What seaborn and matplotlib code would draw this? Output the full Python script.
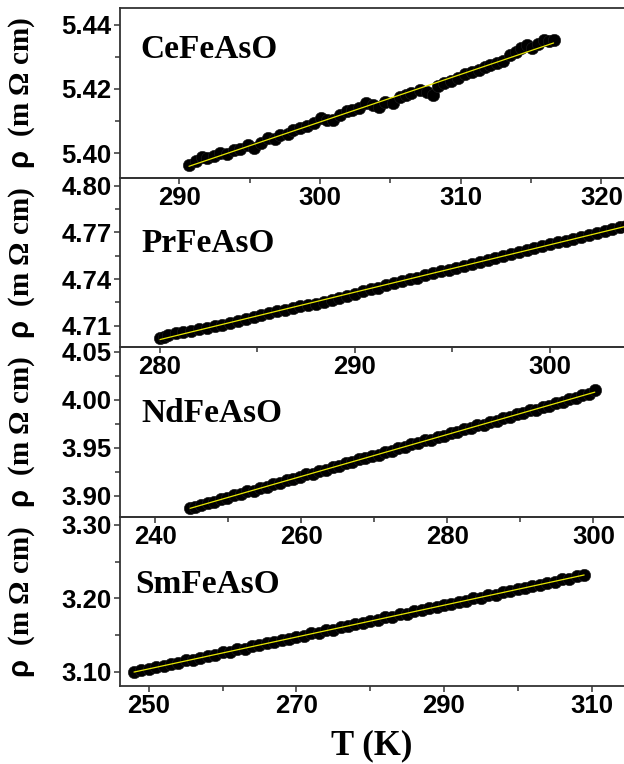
import numpy as np
import pandas as pd
import seaborn as sns
import matplotlib
matplotlib.use("Agg")
import matplotlib.pyplot as plt
from matplotlib.ticker import MultipleLocator, FormatStrFormatter

# ---------------- data ----------------
compounds = ["CeFeAsO", "PrFeAsO", "NdFeAsO", "SmFeAsO"]

T_ce = [290.7, 291.2, 291.6, 292.0, 292.5, 292.9, 293.4, 293.9, 294.3, 294.9,
        295.3, 295.8, 296.3, 296.8, 297.2, 297.7, 298.1, 298.6, 299.1, 299.6,
        300.1, 300.5, 300.9, 301.4, 301.9, 302.3, 302.8, 303.3, 303.8, 304.2,
        304.6, 305.2, 305.7, 306.1, 306.5, 307.1, 307.6, 308.0, 308.4, 308.8,
        309.3, 309.8, 310.3, 310.8, 311.3, 311.7, 312.1, 312.6, 313.0, 313.5,
        313.9, 314.3, 314.7, 315.1, 315.5, 315.9, 316.3, 316.6]
rho_ce = [5.3963, 5.3975, 5.3988, 5.3984, 5.3992, 5.4000, 5.3996, 5.4009, 5.4012, 5.4025,
          5.4016, 5.4030, 5.4047, 5.4044, 5.4056, 5.4060, 5.4072, 5.4078, 5.4084, 5.4095,
          5.4109, 5.4104, 5.4103, 5.4118, 5.4130, 5.4134, 5.4142, 5.4156, 5.4150, 5.4144,
          5.4159, 5.4156, 5.4175, 5.4182, 5.4188, 5.4197, 5.4190, 5.4181, 5.4208, 5.4219,
          5.4225, 5.4234, 5.4246, 5.4252, 5.4259, 5.4268, 5.4275, 5.4281, 5.4288, 5.4305,
          5.4315, 5.4327, 5.4338, 5.4328, 5.4340, 5.4353, 5.4350, 5.4353]

T_pr = [280.0, 280.2, 280.4, 280.8, 281.2, 281.6, 282.0, 282.4, 282.8, 283.2,
        283.6, 284.0, 284.4, 284.8, 285.2, 285.6, 286.0, 286.4, 286.8, 287.2,
        287.6, 288.0, 288.4, 288.8, 289.2, 289.6, 290.0, 290.4, 290.8, 291.2,
        291.6, 292.0, 292.4, 292.8, 293.2, 293.6, 294.0, 294.4, 294.8, 295.2,
        295.6, 296.0, 296.4, 296.8, 297.2, 297.6, 298.0, 298.4, 298.8, 299.2,
        299.6, 300.0, 300.4, 300.8, 301.2, 301.6, 302.0, 302.4, 302.8, 303.2,
        303.6, 303.9]
rho_pr = [4.7019, 4.7030, 4.7040, 4.7051, 4.7060, 4.7068, 4.7081, 4.7088, 4.7100, 4.7106,
          4.7117, 4.7131, 4.7142, 4.7158, 4.7166, 4.7180, 4.7195, 4.7204, 4.7214, 4.7225,
          4.7233, 4.7240, 4.7252, 4.7263, 4.7279, 4.7292, 4.7305, 4.7322, 4.7334, 4.7345,
          4.7360, 4.7372, 4.7386, 4.7398, 4.7409, 4.7424, 4.7437, 4.7450, 4.7461, 4.7474,
          4.7487, 4.7500, 4.7512, 4.7523, 4.7538, 4.7550, 4.7562, 4.7575, 4.7588, 4.7601,
          4.7613, 4.7625, 4.7636, 4.7648, 4.7660, 4.7673, 4.7686, 4.7698, 4.7710, 4.7720,
          4.7733, 4.7742]

T_nd = [244.8, 245.4, 246.3, 247.2, 248.1, 249.0, 249.9, 250.8, 251.7, 252.6,
        253.5, 254.4, 255.3, 256.2, 257.1, 258.0, 258.9, 259.8, 260.7, 261.6,
        262.5, 263.4, 264.3, 265.2, 266.1, 267.0, 267.9, 268.8, 269.7, 270.6,
        271.5, 272.4, 273.3, 274.2, 275.1, 276.0, 276.9, 277.8, 278.7, 279.6,
        280.5, 281.4, 282.3, 283.2, 284.1, 285.0, 285.9, 286.8, 287.7, 288.6,
        289.5, 290.4, 291.3, 292.2, 293.1, 294.0, 294.9, 295.8, 296.7, 297.6,
        298.5, 299.4, 300.2]
rho_nd = [3.8872, 3.8884, 3.8898, 3.8925, 3.8936, 3.8966, 3.8978, 3.9004, 3.9014, 3.9045,
          3.9052, 3.9084, 3.9093, 3.9121, 3.9134, 3.9164, 3.9170, 3.9192, 3.9222, 3.9230,
          3.9262, 3.9270, 3.9300, 3.9306, 3.9340, 3.9348, 3.9378, 3.9388, 3.9418, 3.9425,
          3.9457, 3.9466, 3.9496, 3.9504, 3.9536, 3.9545, 3.9575, 3.9582, 3.9614, 3.9622,
          3.9652, 3.9662, 3.9693, 3.9700, 3.9732, 3.9740, 3.9771, 3.9779, 3.9810, 3.9818,
          3.9850, 3.9858, 3.9889, 3.9897, 3.9928, 3.9936, 3.9968, 3.9975, 4.0006, 4.0015,
          4.0046, 4.0055, 4.0105]

T_sm = [248.0, 249.0, 250.0, 251.0, 252.0, 253.0, 254.0, 255.0, 256.0, 257.0,
        258.0, 259.0, 260.0, 261.0, 262.0, 263.0, 264.0, 265.0, 266.0, 267.0,
        268.0, 269.0, 270.0, 271.0, 272.0, 273.0, 274.0, 275.0, 276.0, 277.0,
        278.0, 279.0, 280.0, 281.0, 282.0, 283.0, 284.0, 285.0, 286.0, 287.0,
        288.0, 289.0, 290.0, 291.0, 292.0, 293.0, 294.0, 295.0, 296.0, 297.0,
        298.0, 299.0, 300.0, 301.0, 302.0, 303.0, 304.0, 305.0, 306.0, 307.0,
        308.0, 309.0]
rho_sm = [3.1000, 3.1020, 3.1032, 3.1064, 3.1076, 3.1108, 3.1120, 3.1154, 3.1163, 3.1186,
          3.1220, 3.1228, 3.1262, 3.1270, 3.1306, 3.1314, 3.1349, 3.1358, 3.1392, 3.1400,
          3.1436, 3.1444, 3.1478, 3.1489, 3.1522, 3.1531, 3.1565, 3.1575, 3.1610, 3.1618,
          3.1652, 3.1661, 3.1695, 3.1704, 3.1740, 3.1748, 3.1782, 3.1792, 3.1826, 3.1835,
          3.1870, 3.1878, 3.1912, 3.1922, 3.1956, 3.1965, 3.2000, 3.2008, 3.2043, 3.2052,
          3.2086, 3.2095, 3.2130, 3.2138, 3.2172, 3.2182, 3.2216, 3.2225, 3.2260, 3.2268,
          3.2303, 3.2322]

# axis limits / ticks
xlims = [(285.8, 321.6), (277.95, 303.8), (235.2, 304.2), (246.1, 314.4)]
ylims = [(5.3922, 5.4453), (4.6963, 4.8050), (3.8778, 4.0549), (3.0805, 3.3109)]
xtick_vals = [[290, 300, 310, 320], [280, 290, 300],
              [240, 260, 280, 300], [250, 270, 290, 310]]
xminor = [5, 5, 10, 10]
ymajor = [0.02, 0.03, 0.05, 0.10]
ytick_vals = [[5.40, 5.42, 5.44], [4.71, 4.74, 4.77, 4.80],
              [3.90, 3.95, 4.00, 4.05], [3.10, 3.20, 3.30]]
label_y = [0.704, 0.564, 0.56, 0.548]
label_x = [0.040, 0.043, 0.043, 0.030]

datasets = [(T_ce, rho_ce), (T_pr, rho_pr), (T_nd, rho_nd), (T_sm, rho_sm)]

# ---------------- style ----------------
sns.set_style("ticks")
plt.rcParams["font.family"] = ["Liberation Sans", "DejaVu Sans"]
plt.rcParams["font.weight"] = "bold"
plt.rcParams["text.color"] = "black"
plt.rcParams["axes.labelcolor"] = "black"
plt.rcParams["mathtext.fontset"] = "custom"
plt.rcParams["mathtext.rm"] = "Liberation Sans"

W, H = 624, 764
fig = plt.figure(figsize=(W / 100, H / 100), dpi=100)

tops = [8, 178, 347, 517]
bots = [178, 347, 517, 686]
left_px = 120

for i in range(4):
    T, rho = datasets[i]
    df = pd.DataFrame({"T": T, "rho": rho})
    ax = fig.add_axes([left_px / W, 1 - bots[i] / H, (W - left_px) / W,
                       (bots[i] - tops[i]) / H])
    ax.set_facecolor("none")
    sns.scatterplot(data=df, x="T", y="rho", ax=ax, color="black", s=80,
                    edgecolor="#202020", linewidth=0.4, zorder=2, legend=False)
    sns.regplot(data=df, x="T", y="rho", ax=ax, scatter=False, ci=None,
                line_kws=dict(color="#e6e600", lw=0.9, zorder=3))
    ax.set_xlim(*xlims[i])
    ax.set_ylim(*ylims[i])
    ax.set_xticks(xtick_vals[i])
    ax.xaxis.set_minor_locator(MultipleLocator(xminor[i]))
    ax.set_yticks(ytick_vals[i])
    ax.yaxis.set_minor_locator(MultipleLocator(ymajor[i] / 2))
    ax.xaxis.set_major_formatter(FormatStrFormatter("%d"))
    ax.yaxis.set_major_formatter(FormatStrFormatter("%.2f"))
    ax.tick_params(which="major", direction="out", length=4, width=1.1,
                   color="#333333", labelcolor="black", labelsize=18.5, pad=2)
    ax.tick_params(which="minor", direction="out", length=3.5, width=1.1,
                   color="#333333")
    for lbl in ax.get_xticklabels() + ax.get_yticklabels():
        lbl.set_fontweight("bold")
        lbl.set_family("Liberation Sans")
    for s in ["left", "top", "bottom"]:
        ax.spines[s].set_color("#333333")
        ax.spines[s].set_linewidth(1.3)
    ax.spines["right"].set_visible(False)
    ax.set_xlabel("")
    ax.set_ylabel(r"$\mathrm{\rho}$  (m Ω cm)", fontsize=21,
                  family="Liberation Serif", fontweight="bold", color="black")
    ax.yaxis.set_label_coords(-0.165, 0.5)
    ax.text(label_x[i], label_y[i], compounds[i], transform=ax.transAxes,
            family="Liberation Serif", fontweight="bold", fontsize=24,
            ha="left", va="baseline", color="black")

fig.text(372 / W, 1 - 754 / H, "T (K)", family="Liberation Serif",
         fontweight="bold", fontsize=25, ha="center", va="baseline",
         color="black")

fig.savefig("out.png", dpi=100)
